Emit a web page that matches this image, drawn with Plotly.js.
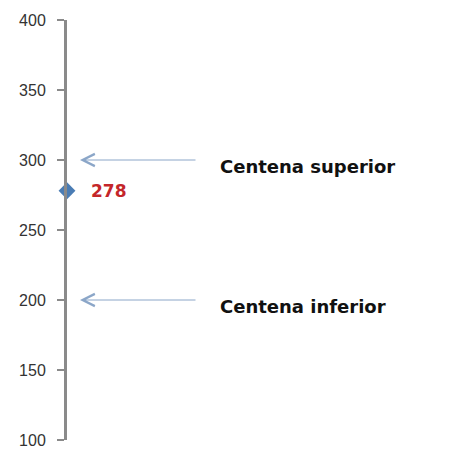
<!DOCTYPE html>
<html><head><meta charset="utf-8">
<script src="https://cdn.plot.ly/plotly-3.0.1.min.js"></script>
<style>html,body{margin:0;padding:0;background:#fff}</style>
</head><body><div id="chart" style="width:460px;height:457px"></div>
<script>
const pointValues = [278];
const pointLabels = ['278'];
const refValues = [300, 200];
const refLabels = ['Centena superior', 'Centena inferior'];
const tickValues = [100, 150, 200, 250, 300, 350, 400];

const annotations = [];
refValues.forEach((v, i) => {
  annotations.push({
    x: 13, y: v, xref: 'x', yref: 'y',
    ax: 130, ay: v, axref: 'x', ayref: 'y',
    showarrow: true, arrowhead: 5, arrowsize: 2.4, arrowwidth: 1,
    arrowcolor: '#8ba6c8', text: ''
  });
  annotations.push({
    x: 151, y: v, xref: 'x', yref: 'y', yshift: -6,
    text: refLabels[i], showarrow: false, xanchor: 'left',
    font: {family: 'DejaVu Sans', size: 18, color: '#111', weight: 'bold'}
  });
});
pointValues.forEach((v, i) => {
  annotations.push({
    x: 0, y: v, xref: 'x', yref: 'y', xshift: 22,
    text: pointLabels[i], showarrow: false, xanchor: 'left',
    font: {family: 'DejaVu Sans', size: 17, color: '#c4262a', weight: 'bold'}
  });
});

const trace = {
  x: pointValues.map(() => 0), y: pointValues,
  mode: 'markers', type: 'scatter',
  marker: {symbol: 'diamond', size: 13, color: '#4a7cb4'},
  cliponaxis: false, hoverinfo: 'none'
};

const layout = {
  width: 460, height: 457,
  margin: {l: 67, r: 0, t: 20, b: 17},
  paper_bgcolor: '#fff', plot_bgcolor: '#fff',
  showlegend: false,
  xaxis: {range: [0, 393], visible: false, fixedrange: true},
  yaxis: {
    range: [100, 400], tickvals: tickValues,
    showline: true, linecolor: '#8a8a8a', linewidth: 3,
    ticks: 'outside', ticklen: 7, tickwidth: 1.5, tickcolor: '#8a8a8a',
    showgrid: false, zeroline: false,
    tickfont: {family: 'Liberation Sans', size: 16, color: '#333'},
    ticklabelstandoff: 8
  },
  annotations: annotations
};
Plotly.newPlot('chart', [trace], layout, {displayModeBar: false, staticPlot: true});
</script></body></html>
